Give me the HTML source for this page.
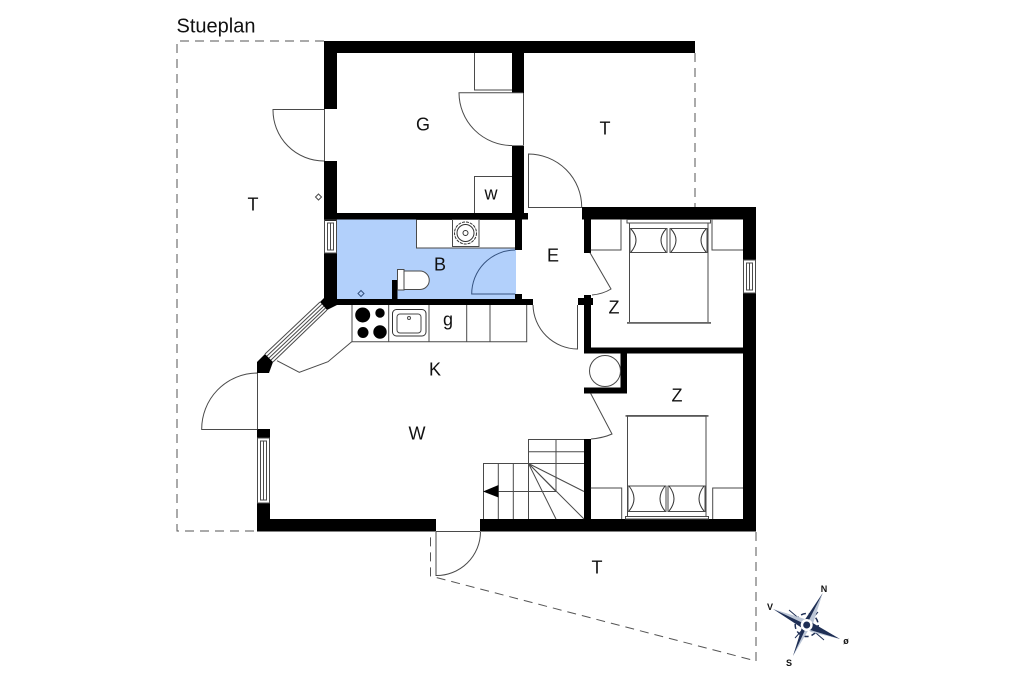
<!DOCTYPE html>
<html>
<head>
<meta charset="utf-8">
<style>
html,body{margin:0;padding:0;background:#fff;}
svg{display:block;filter:blur(0.35px);}
text{font-family:"Liberation Sans",sans-serif;fill:#111;}
.l{font-size:18px;text-anchor:middle;}
.g{fill:none;stroke:#4a4a4a;stroke-width:1;}
.k{fill:none;stroke:#333;stroke-width:1;}
.w{fill:#000;stroke:none;}
.d{fill:none;stroke:#555;stroke-width:1;stroke-dasharray:9 6;}
.c{font-size:9px;font-weight:bold;text-anchor:middle;}
</style>
</head>
<body>
<svg width="1024" height="682" viewBox="0 0 1024 682" xmlns="http://www.w3.org/2000/svg">
<rect width="1024" height="682" fill="#fff"/>

<!-- bath floor -->
<rect x="337" y="219" width="179" height="80" fill="#b2d0fb"/>
<rect x="416.5" y="219.5" width="99" height="28.5" fill="#fff" stroke="#4a4a4a"/>

<!-- dashed boundary -->
<path class="d" d="M324 41H177V531H257"/>
<path class="d" d="M695 53V207"/>
<path class="d" d="M756 532V661L430.5 576V532"/>

<!-- walls -->
<g class="w">
<rect x="324" y="41" width="371" height="12"/>
<rect x="324" y="41" width="13" height="68"/>
<rect x="324" y="161" width="13" height="60"/>
<rect x="324" y="213" width="204" height="6.5"/>
<rect x="512" y="41" width="12" height="52"/>
<rect x="512" y="145.5" width="12" height="74"/>
<rect x="515" y="219" width="7" height="31"/>
<rect x="582" y="207" width="174" height="12.5"/>
<rect x="743" y="207" width="13" height="53"/>
<rect x="743" y="293" width="13" height="238"/>
<rect x="584" y="219" width="7" height="34"/>
<rect x="584" y="295" width="7" height="58"/>
<rect x="578" y="298" width="15" height="7"/>
<rect x="584" y="347.5" width="160" height="6"/>
<rect x="620.5" y="347.5" width="6.5" height="46"/>
<rect x="584" y="387.5" width="43" height="6"/>
<rect x="584" y="439" width="7" height="81"/>
<rect x="337" y="299" width="196" height="6"/>
<rect x="515" y="294" width="7" height="6"/>
<rect x="392" y="280" width="5.5" height="20"/>
<rect x="324" y="253" width="13" height="46"/>
<polygon points="324,298 337,298 337,305 327,310 320,302"/>
<polygon points="257,362 265,354 273,362 269,373 257,373"/>
<rect x="257" y="429" width="13" height="9"/>
<rect x="257" y="503" width="13" height="28.5"/>
<rect x="257" y="519" width="179" height="12.5"/>
<rect x="480" y="519" width="276" height="12.5"/>
</g>

<!-- windows -->
<g class="g">
<rect x="324.5" y="220" width="12" height="33"/>
<rect x="327.5" y="223" width="6" height="27"/>
<line x1="330.5" y1="223" x2="330.5" y2="250"/>
<rect x="743.5" y="260" width="12" height="33"/>
<rect x="746.5" y="263" width="6" height="27"/>
<line x1="749.5" y1="263" x2="749.5" y2="290"/>
<rect x="257.5" y="438" width="12" height="65"/>
<rect x="260.5" y="441" width="6" height="59"/>
<line x1="263.5" y1="441" x2="263.5" y2="500"/>
<path d="M265 354L320 302M273 362L327 310M267 356L322 304M269 358L324 306M271 360L325.5 308"/>
</g>

<!-- doors -->
<path class="g" d="M324.5 109V161M324 109.5H273A51 51 0 0 0 324 161"/>
<path class="g" d="M523.5 93V145M523 92.7H459A53 53 0 0 0 512 145.5"/>
<path class="g" d="M528.5 207V154A53.5 53 0 0 1 581.7 207M528 207.5H582"/>
<path class="g" d="M590 252.7L611 289Q603 294 592 295"/>
<path class="g" d="M533 305A45 45 0 0 0 577.5 349V305"/>
<path fill="none" stroke="#35527f" stroke-width="1" d="M515 250A44 44 0 0 0 471.7 294H515"/>
<path class="g" d="M590.7 393.5L612 434Q603 438 591 439"/>
<path class="g" d="M257.5 373V429.5M257 373A56 56 0 0 0 201.7 429.5H257"/>
<path class="g" d="M436 532V575.5A44 44 0 0 0 480.5 532M436 531.5H480"/>
<path class="g" d="M277 360.7L299.3 372.3L328 361.7L351.7 341.7"/>

<!-- G closets -->
<path class="g" d="M474.5 53V90H512M474.5 213V176.5H512"/>

<!-- sink in bath -->
<rect class="g" x="452.5" y="219.5" width="26.5" height="27"/>
<circle class="k" cx="465.5" cy="233" r="11" stroke-dasharray="3 1" stroke-width="2.2"/>
<circle class="k" cx="465.5" cy="233" r="8.5"/>
<circle class="k" cx="465.5" cy="233" r="2.5"/>

<!-- toilet -->
<rect x="397.5" y="269.5" width="6.5" height="20.5" fill="#fff" stroke="#4a4a4a"/>
<path d="M404 271H420A9 9 0 0 1 420 289.5H404Z" fill="#fff" stroke="#4a4a4a"/>

<!-- markers -->
<polygon class="g" points="318.5,194 321.5,197 318.5,200 315.5,197"/>
<polygon fill="none" stroke="#35527f" points="361,290.5 364,293.5 361,296.5 358,293.5"/>

<!-- kitchen -->
<path class="g" d="M352 305V341.7H526.7V305M388.7 305V341.7M429 305V341.7M466.7 305V341.7M490 305V341.7"/>
<circle cx="362.7" cy="315" r="7.5" fill="#000"/>
<circle cx="380" cy="313" r="4.7" fill="#000"/>
<circle cx="363" cy="332.5" r="5.5" fill="#000"/>
<circle cx="380" cy="332" r="6.7" fill="#000"/>
<rect class="k" x="392.5" y="309.5" width="33.5" height="26.5" rx="4"/>
<rect class="g" x="397" y="314" width="24" height="19" rx="3"/>
<circle class="g" cx="409" cy="318" r="1.5"/>

<!-- bed 1 (top) -->
<path class="g" d="M590.7 250H621V219M712 219V250H743"/>
<rect class="g" x="627" y="219.5" width="83.5" height="3.5"/>
<rect class="g" x="629.5" y="223" width="78.5" height="100"/>
<rect x="627" y="322" width="84" height="1.8" fill="#666"/>
<rect x="630" y="228.5" width="37" height="24" fill="#fff" stroke="#4a4a4a"/>
<rect x="670" y="228.5" width="37" height="24" fill="#fff" stroke="#4a4a4a"/>
<path class="k" d="M631 229Q641 240 631 252M666 229Q656 240 666 252M671 229Q681 240 671 252M706 229Q696 240 706 252"/>

<!-- bed 2 (bottom) -->
<path class="g" d="M590.7 488H621.7V519M743 488H712.7V519"/>
<rect x="625.5" y="415" width="83" height="1.8" fill="#666"/>
<rect class="g" x="627.5" y="416" width="78.5" height="100.5"/>
<rect class="g" x="625.5" y="516.5" width="83" height="2.5"/>
<rect x="628" y="486" width="38" height="25.5" fill="#fff" stroke="#4a4a4a"/>
<rect x="668" y="486" width="37" height="25.5" fill="#fff" stroke="#4a4a4a"/>
<path class="k" d="M629 486Q639 499 629 511M665 486Q655 499 665 511M669 486Q679 499 669 511M704 486Q694 499 704 511"/>

<!-- closet circle -->
<circle class="g" cx="605" cy="371" r="15.5"/>

<!-- stairs -->
<path class="g" d="M584 439.5H528.5V519M528.5 451.7H584M483.5 519V463.5H584M498.3 463.5V519M513.3 463.5V519M556 439.5V491.5M483.5 491.5H556M528.5 463.5L584 491.5M528.5 463.5L584 519M528.5 463.5L556 519M528.5 463.5L556 491.5"/>
<polygon points="483,491.5 498.5,485 498.5,497.5" fill="#000"/>

<!-- compass -->
<g>
<path d="M789 610L806.7 625M824 640L806.7 625M795 638L806.7 625M818 612L806.7 625" stroke="#1f2f55" stroke-width="1" fill="none"/>
<circle cx="806.7" cy="625" r="11.5" fill="none" stroke="#1f2f55" stroke-width="1.5" stroke-dasharray="5 3"/>
<polygon points="822.7,593 811,622 804,621" fill="#1f2f55"/>
<polygon points="822.7,593 811,630 808,622" fill="#bcc6d6"/>
<polygon points="793,656 802,628 809,629" fill="#bcc6d6"/>
<polygon points="793,656 803,624 806,628" fill="#1f2f55"/>
<polygon points="773,609 803,621 802,628" fill="#1f2f55"/>
<polygon points="773,609 808,620 805,624" fill="#bcc6d6"/>
<polygon points="840,639 811,622 808,630" fill="#1f2f55"/>
<polygon points="840,639 807,629 811,632" fill="#bcc6d6"/>
<circle cx="806.7" cy="625" r="6" fill="#fff"/>
<circle cx="806.7" cy="625" r="3.5" fill="#1f2f55"/>
</g>
<text class="c" x="824" y="592">N</text>
<text class="c" x="770" y="610">V</text>
<text class="c" x="846" y="644">ø</text>
<text class="c" x="789" y="666">S</text>

<!-- labels -->
<text x="176.5" y="32.5" font-size="20">Stueplan</text>
<text class="l" x="423" y="130.5">G</text>
<text class="l" x="253" y="210.5">T</text>
<text class="l" x="605" y="134.5">T</text>
<text class="l" x="491" y="199.5">w</text>
<text class="l" x="553" y="261.5">E</text>
<text class="l" x="440" y="270.5" fill="#10204a">B</text>
<text class="l" x="614" y="313.5">Z</text>
<text class="l" x="448" y="325.5">g</text>
<text class="l" x="435" y="375.5">K</text>
<text class="l" x="417" y="439.5">W</text>
<text class="l" x="677" y="401.5">Z</text>
<text class="l" x="597" y="573.5">T</text>
</svg>
</body>
</html>
